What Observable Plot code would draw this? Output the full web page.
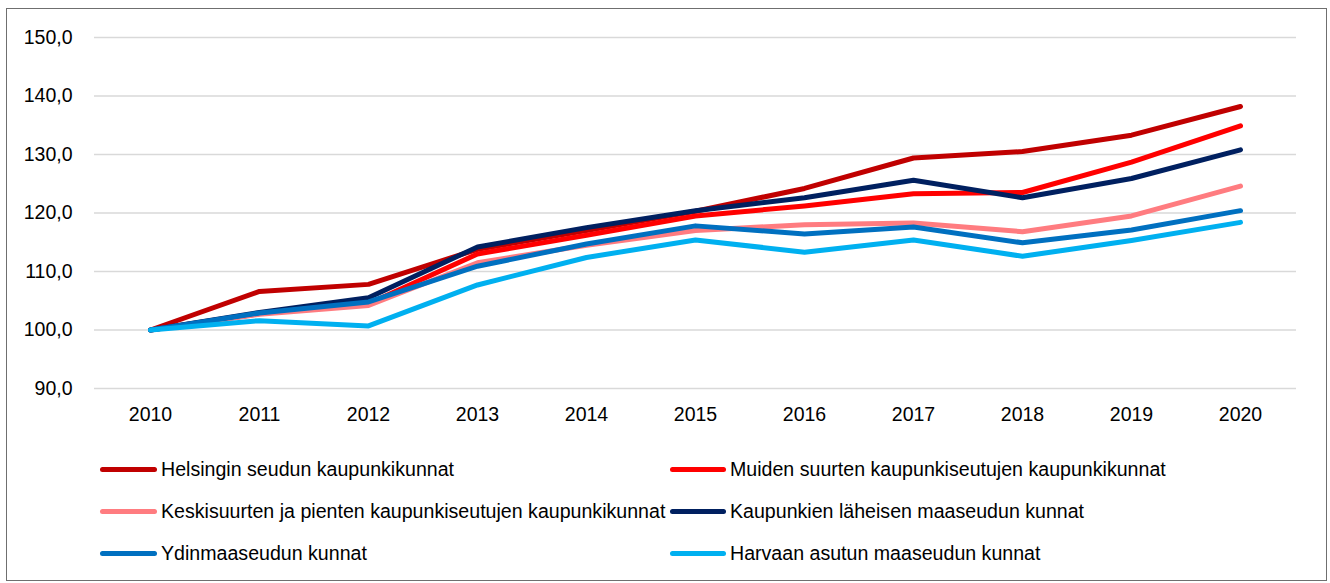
<!DOCTYPE html>
<html>
<head>
<meta charset="utf-8">
<script src="https://cdn.jsdelivr.net/npm/d3@7"></script>
<script src="https://cdn.jsdelivr.net/npm/@observablehq/plot@0.6"></script>
<style>
  html, body { margin: 0; padding: 0; background: #fff; }
  body { width: 1330px; height: 583px; position: relative; overflow: hidden;
         font-family: "Liberation Sans", Arial, sans-serif; }
  #frame { position: absolute; left: 6px; top: 8px; width: 1321px; height: 573px; border: 1px solid #6f6f6f; box-sizing: border-box; }
  #chart { position: absolute; left: 0; top: 0; }
  #chart svg text { font-size: 19.5px !important; font-family: "Liberation Sans", Arial, sans-serif !important; fill: #000; }
  #chart svg g[aria-label$="tick label"] { font-size: 19.5px !important; font-family: "Liberation Sans", Arial, sans-serif !important; }
  .leg { position: absolute; display: flex; align-items: center; font-size: 19.6px; color: #000; white-space: nowrap; }
  .leg .sw { display: inline-block; height: 5px; border-radius: 3px; margin-right: 4px; }
</style>
</head>
<body>
<div id="frame"></div>
<div id="chart"></div>
<div id="legend"></div>
<script>
const years = [2010, 2011, 2012, 2013, 2014, 2015, 2016, 2017, 2018, 2019, 2020];
const seriesNames = [
  "Helsingin seudun kaupunkikunnat",
  "Muiden suurten kaupunkiseutujen kaupunkikunnat",
  "Keskisuurten ja pienten kaupunkiseutujen kaupunkikunnat",
  "Kaupunkien läheisen maaseudun kunnat",
  "Ydinmaaseudun kunnat",
  "Harvaan asutun maaseudun kunnat"
];
const seriesColors = ["#C00000", "#FF0000", "#FF7C80", "#002060", "#0070C0", "#00B0F0"];
const helsinki   = [100, 106.6, 107.8, 113.8, 117.0, 120.3, 124.2, 129.4, 130.5, 133.3, 138.2];
const muiden     = [100, 102.8, 104.5, 113.0, 116.2, 119.5, 121.2, 123.3, 123.5, 128.7, 134.9];
const keskisuur  = [100, 102.7, 104.2, 111.5, 114.5, 117.0, 118.0, 118.3, 116.8, 119.5, 124.6];
const lahimaas   = [100, 103.0, 105.5, 114.2, 117.5, 120.4, 122.6, 125.6, 122.6, 125.9, 130.8];
const ydinmaas   = [100, 102.9, 104.8, 110.9, 114.7, 117.8, 116.4, 117.6, 114.9, 117.1, 120.4];
const harvaan    = [100, 101.6, 100.7, 107.7, 112.4, 115.4, 113.3, 115.4, 112.6, 115.3, 118.4];
const yTicks = [90, 100, 110, 120, 130, 140, 150];

const allSeries = [helsinki, muiden, keskisuur, lahimaas, ydinmaas, harvaan];
const data = [];
allSeries.forEach((vals, i) => vals.forEach((v, j) => data.push({series: seriesNames[i], year: String(years[j]), value: v})));

const fmt = v => v.toFixed(1).replace(".", ",");

const chart = Plot.plot({
  width: 1330,
  height: 440,
  marginLeft: 94,
  marginRight: 34,
  marginTop: 37,
  marginBottom: 52,
  style: { fontFamily: '"Liberation Sans", Arial, sans-serif', fontSize: "19.5px", color: "#000", background: "transparent" },
  x: { type: "point", domain: years.map(String), padding: 0.5, label: null, tickSize: 0, tickPadding: 19 },
  y: { domain: [90, 150], ticks: yTicks, tickFormat: fmt, label: null, tickSize: 0, tickPadding: 22 },
  color: { domain: seriesNames, range: seriesColors },
  marks: [
    Plot.gridY(yTicks, { stroke: "#d9d9d9", strokeOpacity: 1, strokeWidth: 1.5 }),
    Plot.line(data, { x: "year", y: "value", z: "series", stroke: "series", fill: "none", strokeWidth: 5, strokeLinecap: "round", strokeLinejoin: "round" })
  ]
});
document.getElementById("chart").appendChild(chart);

const legendPos = [
  [100, 469], [670, 469],
  [100, 511], [670, 511],
  [100, 553], [670, 553]
];
const leg = document.getElementById("legend");
seriesNames.forEach((name, i) => {
  const d = document.createElement("div");
  d.className = "leg";
  d.style.left = legendPos[i][0] + "px";
  d.style.top = (legendPos[i][1] - 12) + "px";
  d.style.height = "24px";
  const sw = document.createElement("span");
  sw.className = "sw";
  sw.style.background = seriesColors[i];
  sw.style.width = (i % 2 === 0 ? 57 : 56) + "px";
  d.appendChild(sw);
  const t = document.createElement("span");
  t.textContent = name;
  d.appendChild(t);
  leg.appendChild(d);
});
</script>
</body>
</html>
